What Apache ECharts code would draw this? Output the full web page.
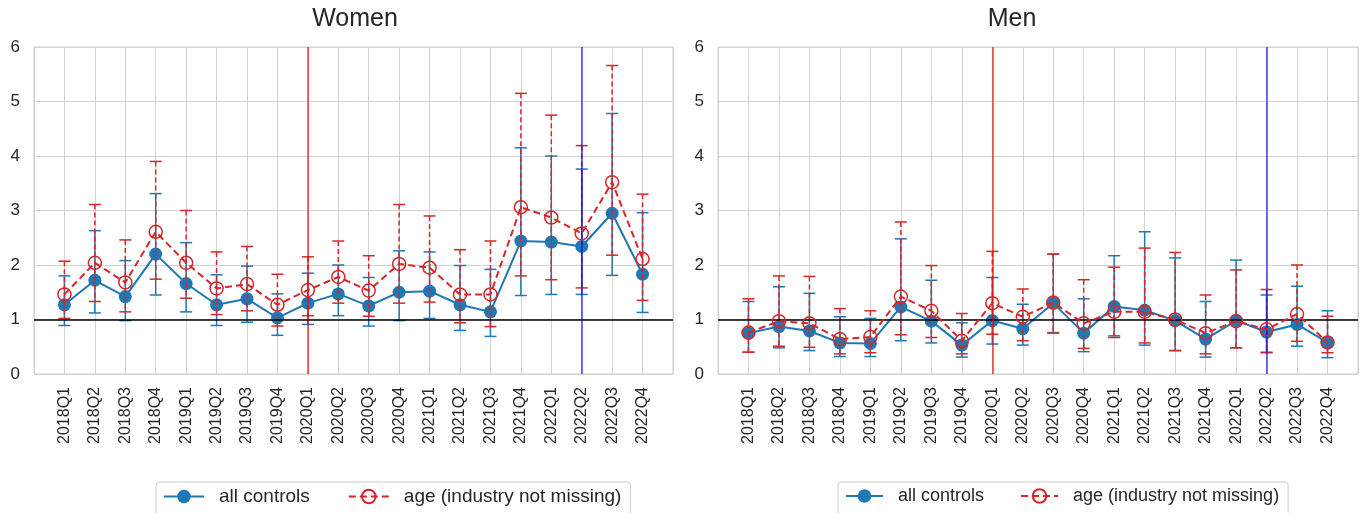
<!DOCTYPE html>
<html>
<head>
<meta charset="utf-8">
<script src="https://cdn.jsdelivr.net/npm/echarts@6/dist/echarts.min.js"></script>
<style>
  html, body { margin: 0; padding: 0; background: #fff; }
  #main { width: 1362px; height: 513px; }
</style>
</head>
<body>
<div id="main"></div>
<script>
let quarters = ["2018Q1", "2018Q2", "2018Q3", "2018Q4", "2019Q1", "2019Q2", "2019Q3", "2019Q4",
  "2020Q1", "2020Q2", "2020Q3", "2020Q4", "2021Q1", "2021Q2", "2021Q3", "2021Q4",
  "2022Q1", "2022Q2", "2022Q3", "2022Q4"];

// women, all controls
let womenAll   = [1.27, 1.72, 1.42, 2.20, 1.66, 1.27, 1.38, 1.03, 1.30, 1.47, 1.25, 1.50, 1.52, 1.27, 1.14, 2.44, 2.42, 2.34, 2.95, 1.83];
let womenAllLo = [0.89, 1.12, 0.98, 1.45, 1.14, 0.89, 0.95, 0.71, 0.91, 1.07, 0.88, 0.98, 1.02, 0.80, 0.69, 1.44, 1.46, 1.46, 1.81, 1.13];
let womenAllHi = [1.80, 2.63, 2.08, 3.31, 2.41, 1.82, 1.98, 1.47, 1.85, 2.00, 1.77, 2.26, 2.24, 1.99, 1.92, 4.15, 4.00, 3.76, 4.78, 2.96];
// women, age (industry not missing)
let womenAge   = [1.46, 2.04, 1.68, 2.61, 2.04, 1.57, 1.65, 1.27, 1.54, 1.78, 1.53, 2.02, 1.95, 1.46, 1.46, 3.06, 2.87, 2.58, 3.52, 2.11];
let womenAgeLo = [1.02, 1.33, 1.14, 1.74, 1.39, 1.09, 1.16, 0.88, 1.07, 1.30, 1.06, 1.30, 1.32, 0.94, 0.87, 1.80, 1.73, 1.58, 2.18, 1.35];
let womenAgeHi = [2.07, 3.11, 2.46, 3.90, 3.00, 2.24, 2.34, 1.83, 2.15, 2.44, 2.17, 3.11, 2.90, 2.28, 2.44, 5.15, 4.75, 4.19, 5.66, 3.30];

// men, all controls
let menAll   = [0.75, 0.87, 0.79, 0.57, 0.56, 1.23, 0.97, 0.53, 0.98, 0.83, 1.30, 0.75, 1.24, 1.17, 0.98, 0.64, 0.98, 0.77, 0.91, 0.58];
let menAllLo = [0.40, 0.48, 0.43, 0.32, 0.32, 0.61, 0.57, 0.31, 0.55, 0.53, 0.76, 0.41, 0.70, 0.53, 0.43, 0.31, 0.48, 0.40, 0.51, 0.30];
let menAllHi = [1.33, 1.60, 1.48, 1.05, 1.02, 2.48, 1.72, 0.94, 1.77, 1.28, 2.20, 1.38, 2.17, 2.61, 2.13, 1.33, 2.09, 1.45, 1.61, 1.16];
// men, age (industry not missing)
let menAge   = [0.76, 0.97, 0.93, 0.64, 0.68, 1.42, 1.16, 0.61, 1.30, 1.05, 1.31, 0.93, 1.14, 1.14, 1.00, 0.75, 0.97, 0.82, 1.10, 0.58];
let menAgeLo = [0.40, 0.51, 0.49, 0.37, 0.39, 0.72, 0.67, 0.37, 0.73, 0.61, 0.75, 0.47, 0.67, 0.57, 0.43, 0.37, 0.48, 0.39, 0.60, 0.39];
let menAgeHi = [1.38, 1.80, 1.79, 1.20, 1.16, 2.79, 1.99, 1.11, 2.25, 1.56, 2.20, 1.73, 1.96, 2.31, 2.23, 1.45, 1.91, 1.55, 2.00, 1.06];

let yTicks = [0, 1, 2, 3, 4, 5, 6];

let BLUE = "#1f77b4";
let RED = "#d62728";
let FONT = "Liberation Sans";

let points = (vals) => vals.map((v, i) => [i, v]);
let bars = (lo, hi) => lo.map((v, i) => [i, v, hi[i]]);

let errorBars = (name, lo, hi, color, dashed, gi) => ({
  name: name,
  type: "custom",
  xAxisIndex: gi,
  yAxisIndex: gi,
  silent: true,
  z: dashed ? 4 : 2,
  data: bars(lo, hi),
  encode: { x: 0, y: [1, 2] },
  renderItem: function (params, api) {
    let top = api.coord([api.value(0), api.value(2)]);
    let bot = api.coord([api.value(0), api.value(1)]);
    let cap = 6;
    let style = { stroke: color, lineWidth: 1.5, lineDash: dashed ? [5, 3] : null };
    return {
      type: "group",
      children: [
        { type: "line", shape: { x1: top[0], y1: top[1], x2: bot[0], y2: bot[1] }, style: style },
        { type: "line", shape: { x1: top[0] - cap, y1: top[1], x2: top[0] + cap, y2: top[1] }, style: { stroke: color, lineWidth: 1.5 } },
        { type: "line", shape: { x1: bot[0] - cap, y1: bot[1], x2: bot[0] + cap, y2: bot[1] }, style: { stroke: color, lineWidth: 1.5 } },
      ],
    };
  },
});

let mainLines = (gi, allVals, ageVals) => [
  {
    name: "all controls",
    type: "line",
    xAxisIndex: gi,
    yAxisIndex: gi,
    data: points(allVals),
    symbol: "circle",
    symbolSize: 13,
    z: 3,
    itemStyle: { color: BLUE },
    lineStyle: { color: BLUE, width: 2 },
    markLine: {
      silent: true,
      symbol: "none",
      label: { show: false },
      data: [
        { yAxis: 1, lineStyle: { color: "#000", width: 1.5, type: "solid" } },
        { xAxis: 8, lineStyle: { color: "rgba(255,0,0,0.8)", width: 1.5, type: "solid" } },
        { xAxis: 17, lineStyle: { color: "rgba(0,0,255,0.75)", width: 1.5, type: "solid" } },
      ],
    },
  },
  {
    name: "age (industry not missing)",
    type: "line",
    xAxisIndex: gi,
    yAxisIndex: gi,
    data: points(ageVals),
    symbol: "circle",
    symbolSize: 13,
    z: 5,
    itemStyle: { color: "transparent", borderColor: RED, borderWidth: 1.5 },
    lineStyle: { color: RED, width: 2, type: [7, 4] },
  },
];

let xAxisFor = (gi) => ({
  type: "value",
  gridIndex: gi,
  min: -1,
  max: 20,
  interval: 1,
  axisLine: { show: false },
  axisTick: { show: false },
  splitLine: { show: true, lineStyle: { color: "#d3d3d3", width: 1 } },
  axisLabel: {
    rotate: 90,
    margin: 13,
    fontSize: 16,
    fontFamily: FONT,
    color: "#262626",
    formatter: (v) => quarters[v] || "",
  },
});

let yAxisFor = (gi) => ({
  type: "value",
  gridIndex: gi,
  min: yTicks[0],
  max: yTicks[yTicks.length - 1],
  interval: 1,
  axisLine: { show: false },
  axisTick: { show: false },
  splitLine: { show: true, lineStyle: { color: "#d3d3d3", width: 1 } },
  axisLabel: { fontSize: 17, fontFamily: FONT, color: "#262626", margin: 14 },
});

let legendFor = (left, fontSize, iconW, gap) => ({
  left: left,
  top: 482,
  orient: "horizontal",
  data: ["all controls", "age (industry not missing)"],
  itemWidth: iconW,
  itemHeight: 17,
  itemGap: gap,
  padding: [5, 9, 12, 7],
  borderColor: "#cccccc",
  borderWidth: 1,
  borderRadius: 3,
  textStyle: { fontSize: fontSize, fontFamily: FONT, color: "#262626", padding: [0, 0, 0, 10] },
});

let option = {
  animation: false,
  backgroundColor: "#fff",
  title: [
    { text: "Women", left: 350, top: 2, textAlign: "center", textStyle: { fontSize: 25, fontWeight: "normal", fontFamily: FONT, color: "#262626" } },
    { text: "Men", left: 1007, top: 2, textAlign: "center", textStyle: { fontSize: 25, fontWeight: "normal", fontFamily: FONT, color: "#262626" } },
  ],
  legend: [legendFor(156, 19, 40, 38), legendFor(838, 18, 37, 36)],
  grid: [
    { left: 34, right: 689, top: 47, bottom: 139, show: true, borderColor: "#cccccc", borderWidth: 1 },
    { left: 718, right: 4, top: 47, bottom: 139, show: true, borderColor: "#cccccc", borderWidth: 1 },
  ],
  xAxis: [xAxisFor(0), xAxisFor(1)],
  yAxis: [yAxisFor(0), yAxisFor(1)],
  series: [
    errorBars("all controls ci", womenAllLo, womenAllHi, BLUE, false, 0),
    errorBars("age ci", womenAgeLo, womenAgeHi, RED, true, 0),
    ...mainLines(0, womenAll, womenAge),
    errorBars("all controls ci", menAllLo, menAllHi, BLUE, false, 1),
    errorBars("age ci", menAgeLo, menAgeHi, RED, true, 1),
    ...mainLines(1, menAll, menAge),
  ],
};

var myChart = echarts.init(document.getElementById("main"));
myChart.setOption(option);
</script>
</body>
</html>
